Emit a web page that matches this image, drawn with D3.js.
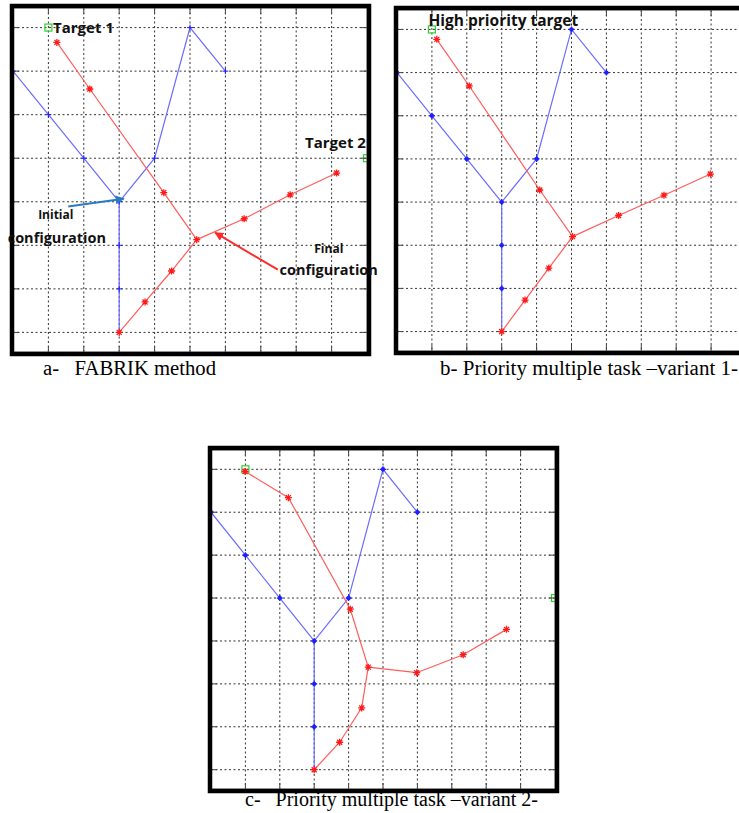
<!DOCTYPE html>
<html lang="en">
<head>
<meta charset="UTF-8">
<title>FABRIK vs priority multiple task</title>
<style>
  body { margin: 0; background: #fff; }
  svg { display: block; }
</style>
</head>
<body>
<script src="https://d3js.org/d3.v7.min.js"></script>
<script>
// grid lines (joint space units)
let xTicks = [-2, -1, 0, 1, 2, 3, 4, 5, 6];
let yTicks = [0, 1, 2, 3, 4, 5, 6, 7];
let xDomain = [-3, 7];
let yDomain = [-0.45, 7.45];

// initial configuration, blue (same in every panel)
let initTrunk = [[0, 0], [0, 1], [0, 2], [0, 3]];
let initLeft = [[0, 3], [-1, 4], [-2, 5], [-3, 6]];
let initRight = [[0, 3], [1, 4], [2, 7], [3, 6]];

// targets
let target1 = [-2, 7];
let target2 = [7, 4];

// final configurations, red
let fabrikTrunk = [[0, 0], [0.73, 0.70], [1.48, 1.41], [2.19, 2.13]];
let fabrikBranch1 = [[2.19, 2.13], [1.26, 3.21], [-0.83, 5.59], [-1.76, 6.66]];
let fabrikBranch2 = [[2.19, 2.13], [3.53, 2.61], [4.83, 3.16], [6.14, 3.66]];

let var1Trunk = [[0, 0], [0.67, 0.73], [1.35, 1.47], [2.03, 2.20]];
let var1Branch1 = [[2.03, 2.20], [1.09, 3.28], [-0.93, 5.69], [-1.86, 6.77]];
let var1Branch2 = [[2.03, 2.20], [3.35, 2.69], [4.65, 3.16], [5.98, 3.65]];

let var2Trunk = [[0, 0], [0.74, 0.64], [1.38, 1.44], [1.57, 2.39]];
let var2Branch1 = [[1.57, 2.39], [1.05, 3.74], [-0.75, 6.34], [-2.01, 6.95]];
let var2Branch2 = [[1.57, 2.39], [2.98, 2.26], [4.33, 2.68], [5.59, 3.27]];

let captions = [
  "a-   FABRIK method",
  "b- Priority multiple task \u2013variant 1-",
  "c-   Priority multiple task \u2013variant 2-"
];

let svg = d3.select("body").append("svg")
  .attr("width", 739)
  .attr("height", 813)
  .style("background", "#fff");

let defs = svg.append("defs");
function arrowHead(id, color) {
  defs.append("marker")
    .attr("id", id)
    .attr("viewBox", "0 0 10 10")
    .attr("refX", 9).attr("refY", 5)
    .attr("markerWidth", 4.5).attr("markerHeight", 4.5)
    .attr("orient", "auto")
    .append("path")
    .attr("d", "M0,0 L10,5 L0,10 Z")
    .attr("fill", color);
}
arrowHead("arrowBlue", "#2b7bc4");
arrowHead("arrowRed", "#ff2a2a");

// panel boxes (pixels)
let panels = [
  { id: "a", left: 13, top: 8, width: 354, height: 344, dotted: false,
    red: [fabrikTrunk, fabrikBranch1, fabrikBranch2], targets: [target1, target2],
    caption: captions[0], capX: 43, capY: 375, capW: 173 },
  { id: "b", left: 397, top: 10, width: 349, height: 341, dotted: true,
    red: [var1Trunk, var1Branch1, var1Branch2], targets: [target1, target2],
    caption: captions[1], capX: 440, capY: 375, capW: 298 },
  { id: "c", left: 211, top: 450, width: 344, height: 339, dotted: true,
    red: [var2Trunk, var2Branch1, var2Branch2], targets: [target1, target2],
    caption: captions[2], capX: 245, capY: 806, capW: 293 }
];

panels.forEach(function(p) {
  let x = d3.scaleLinear().domain(xDomain).range([p.left, p.left + p.width]);
  let y = d3.scaleLinear().domain(yDomain).range([p.top + p.height, p.top]);
  let line = d3.line().x(d => x(d[0])).y(d => y(d[1]));

  defs.append("clipPath").attr("id", "clip-" + p.id)
    .append("rect")
    .attr("x", p.left).attr("y", p.top)
    .attr("width", p.width).attr("height", p.height);

  let g = svg.append("g");
  let plot = g.append("g").attr("clip-path", `url(#clip-${p.id})`);

  // dotted grid
  plot.selectAll(".vgrid").data(xTicks).enter().append("line")
    .attr("x1", d => x(d)).attr("x2", d => x(d))
    .attr("y1", p.top).attr("y2", p.top + p.height)
    .attr("stroke", "#333").attr("stroke-width", 1)
    .attr("stroke-dasharray", "2,2.5");
  plot.selectAll(".hgrid").data(yTicks).enter().append("line")
    .attr("x1", p.left).attr("x2", p.left + p.width)
    .attr("y1", d => y(d)).attr("y2", d => y(d))
    .attr("stroke", "#333").attr("stroke-width", 1)
    .attr("stroke-dasharray", "2,2.5");

  // tick marks on all four sides
  let tl = 6;
  xTicks.forEach(function(t) {
    g.append("line").attr("x1", x(t)).attr("x2", x(t))
      .attr("y1", p.top + p.height).attr("y2", p.top + p.height - tl)
      .attr("stroke", "#444");
    g.append("line").attr("x1", x(t)).attr("x2", x(t))
      .attr("y1", p.top).attr("y2", p.top + tl)
      .attr("stroke", "#444");
  });
  yTicks.forEach(function(t) {
    g.append("line").attr("y1", y(t)).attr("y2", y(t))
      .attr("x1", p.left).attr("x2", p.left + tl)
      .attr("stroke", "#444");
    g.append("line").attr("y1", y(t)).attr("y2", y(t))
      .attr("x1", p.left + p.width).attr("x2", p.left + p.width - tl)
      .attr("stroke", "#444");
  });

  // initial configuration (blue)
  [initTrunk, initLeft, initRight].forEach(function(chain) {
    plot.append("path").attr("d", line(chain))
      .attr("fill", "none").attr("stroke", "#6b6bff").attr("stroke-width", 1.2);
  });
  let blueJoints = initTrunk.slice(1).concat(initLeft.slice(1), initRight.slice(1));
  blueJoints.forEach(function(d) {
    let cx = x(d[0]), cy = y(d[1]);
    if (p.dotted) {
      plot.append("circle").attr("cx", cx).attr("cy", cy).attr("r", 2.2).attr("fill", "#1f1fff");
    }
    plot.append("path")
      .attr("d", `M${cx - 3},${cy}H${cx + 3}M${cx},${cy - 3}V${cy + 3}`)
      .attr("stroke", "#1f1fff").attr("stroke-width", p.dotted ? 1.2 : 1);
  });

  // targets (green squares)
  p.targets.forEach(function(t) {
    plot.append("rect")
      .attr("x", x(t[0]) - 3.5).attr("y", y(t[1]) - 3.5)
      .attr("width", 7).attr("height", 7)
      .attr("fill", "none").attr("stroke", "#2fd12f").attr("stroke-width", 1.2);
  });

  // final configuration (red)
  p.red.forEach(function(chain) {
    plot.append("path").attr("d", line(chain))
      .attr("fill", "none").attr("stroke", "#ff5c5c").attr("stroke-width", 1.2);
  });
  let redJoints = [p.red[0][0]].concat(p.red[0].slice(1), p.red[1].slice(1), p.red[2].slice(1));
  redJoints.forEach(function(d) {
    let cx = x(d[0]), cy = y(d[1]), r = 3.5, s = 2.5;
    plot.append("path")
      .attr("d", `M${cx - r},${cy}H${cx + r}M${cx},${cy - r}V${cy + r}` +
        `M${cx - s},${cy - s}L${cx + s},${cy + s}M${cx - s},${cy + s}L${cx + s},${cy - s}`)
      .attr("stroke", "#ff1a1a").attr("stroke-width", 1.3);
  });

  // axes box and thick frame
  g.append("rect")
    .attr("x", p.left).attr("y", p.top)
    .attr("width", p.width).attr("height", p.height)
    .attr("fill", "none").attr("stroke", "#888").attr("stroke-width", 1);
  g.append("rect")
    .attr("x", p.left - 1).attr("y", p.top - 2)
    .attr("width", p.width + 3).attr("height", p.height + 4)
    .attr("fill", "none").attr("stroke", "#000").attr("stroke-width", 4.5);

  // caption
  svg.append("text")
    .attr("x", p.capX).attr("y", p.capY)
    .attr("xml:space", "preserve")
    .attr("textLength", p.capW)
    .attr("lengthAdjust", "spacingAndGlyphs")
    .style("white-space", "pre")
    .style("font-family", "'Liberation Serif', 'Times New Roman', serif")
    .style("font-size", "20px")
    .attr("fill", "#000")
    .text(p.caption);

  p.x = x; p.y = y;
});

// annotations
let pa = panels[0], pb = panels[1];
function label(p, dx, dy, txt, size) {
  svg.append("text")
    .attr("x", p.x(dx)).attr("y", p.y(dy))
    .style("font-family", "'Open Sans', sans-serif")
    .style("font-weight", "bold")
    .style("font-size", size + "px")
    .attr("fill", "#111")
    .text(txt);
}
label(pa, -1.87, 6.87, "Target 1", 15);
label(pa, 5.25, 4.24, "Target 2", 15);
label(pa, -2.29, 2.61, "Initial", 12);
label(pa, -3.15, 2.06, "configuration", 14.5);
label(pa, 5.51, 1.83, "Final", 12);
label(pa, 4.53, 1.32, "configuration", 14.5);
svg.append("text")
  .attr("x", pb.x(-2.1)).attr("y", pb.y(7.08))
  .style("font-family", "'Open Sans', sans-serif")
  .style("font-weight", "bold")
  .style("font-size", "15.5px")
  .attr("fill", "#111")
  .text("High priority target");

svg.append("line")
  .attr("x1", pa.x(-1.44)).attr("y1", pa.y(2.89))
  .attr("x2", pa.x(0.13)).attr("y2", pa.y(3.07))
  .attr("stroke", "#2b7bc4").attr("stroke-width", 2)
  .attr("marker-end", "url(#arrowBlue)");
svg.append("line")
  .attr("x1", pa.x(4.48)).attr("y1", pa.y(1.44))
  .attr("x2", pa.x(2.71)).attr("y2", pa.y(2.29))
  .attr("stroke", "#ff2a2a").attr("stroke-width", 2)
  .attr("marker-end", "url(#arrowRed)");
</script>
</body>
</html>
